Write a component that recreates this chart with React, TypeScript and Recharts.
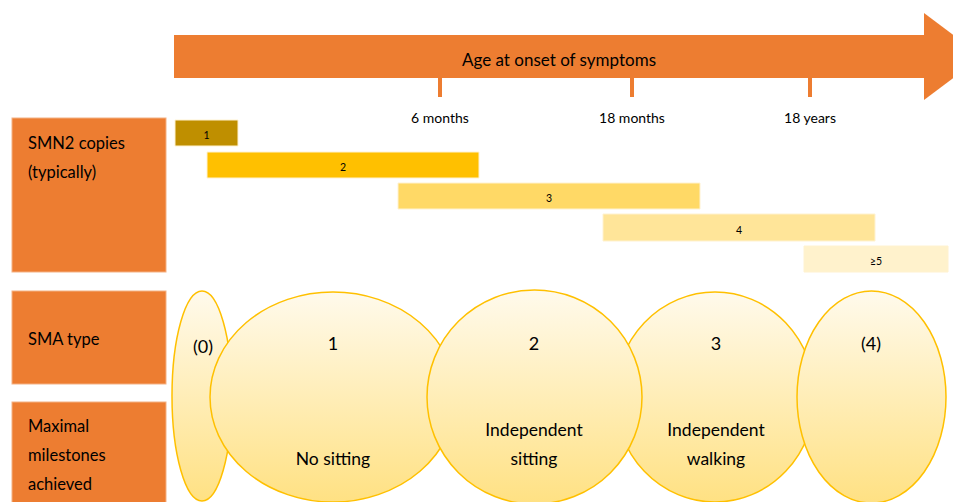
import { ComposedChart, XAxis, YAxis, ReferenceArea, ReferenceDot } from 'recharts';

const W = 953;
const H = 502;
const FONT = 'Lato, "Open Sans", sans-serif';

// positions are in figure units (x: 0..953 left->right, y: 0..502 top->bottom)
const arrowBody = { x1: 174, x2: 924, y1: 35, y2: 78 };
const arrowHead = { x1: 924, x2: 982, y1: 13, y2: 100 };
const arrowTitle = 'Age at onset of symptoms';
const arrowTitlePos = [559, 59];

const ageTicks = [440, 632, 810];
const ageTickLabels = ['6 months', '18 months', '18 years'];

const copyLabels = ['1', '2', '3', '4', '≥5'];
const copyStart = [175, 207, 398, 603, 804];
const copyEnd = [238, 479, 700, 875, 948];
const copyTop = [120, 152, 183, 214, 246];
const copyBottom = [146, 178, 209, 241, 272];
const copyColors = ['#BF8F00', '#FFC000', '#FFD966', '#FFE599', '#FFF2CC'];

const rowTitles = [['SMN2 copies', '(typically)'], ['SMA type'], ['Maximal', 'milestones', 'achieved']];
const rowTop = [118, 291, 402];
const rowBottom = [272, 384, 520];
const rowTextY = [143, 339, 426];

// ellipses listed in drawing order (later ones sit on top)
const typeLabels = ['(0)', '1', '3', '2', '(4)'];
const typeLeft = [172, 210, 615, 427, 797];
const typeRight = [232, 456, 815, 642, 946];
const typeTop = [291, 292, 292, 290, 291];
const typeBottom = [501, 502, 502, 504, 503];
const typeLabelX = [203, 333, 716, 534, 871];
const milestones = [[], ['No sitting'], ['Independent', 'walking'], ['Independent', 'sitting'], []];

const OrangeBox = (lines: string[], firstY: number) => (p: any) => (
    <g>
        <rect x={p.x} y={p.y} width={p.width} height={p.height} fill="#ED7D31" stroke="#F4B183" strokeWidth={1} />
        {lines.map((t, i) => (
            <text
                key={t}
                x={p.x + 16}
                y={firstY + i * 29}
                fontSize={16.5}
                fontFamily={FONT}
                fill="#000"
                dominantBaseline="central"
            >
                {t}
            </text>
        ))}
    </g>
);

const Ellipse = (idx: number) => (p: any) => (
    <g>
        <defs>
            <linearGradient id={`eg${idx}`} x1="0" y1="0" x2="0" y2="1">
                <stop offset="0%" stopColor="#FFFAEC" />
                <stop offset="100%" stopColor="#FFE183" />
            </linearGradient>
        </defs>
        <ellipse
            cx={p.x + p.width / 2}
            cy={p.y + p.height / 2}
            rx={p.width / 2}
            ry={p.height / 2}
            fill={`url(#eg${idx})`}
            stroke="#FFC000"
            strokeWidth={1.5}
        />
    </g>
);

const TextAt = (text: string, size: number) => (p: any) => (
    <text x={p.cx} y={p.cy} fontSize={size} fontFamily={FONT} fill="#000" textAnchor="middle" dominantBaseline="central">
        {text}
    </text>
);

export default function App() {
    return (
        <div style={{ position: 'absolute', left: 0, top: 0, background: '#fff' }}>
            <ComposedChart width={W} height={H} margin={{ top: 0, right: 0, bottom: 0, left: 0 }} data={[]}>
                <XAxis type="number" dataKey="x" domain={[0, W]} hide allowDataOverflow />
                <YAxis type="number" dataKey="y" domain={[0, H]} reversed hide allowDataOverflow />

                {/* arrow */}
                <ReferenceArea {...arrowBody} fill="#ED7D31" fillOpacity={1} stroke="none" ifOverflow="visible" />
                <ReferenceArea
                    {...arrowHead}
                    ifOverflow="visible"
                    shape={(p: any) => (
                        <polygon
                            points={`${p.x},${p.y} ${p.x + p.width},${p.y + p.height / 2} ${p.x},${p.y + p.height}`}
                            fill="#ED7D31"
                        />
                    )}
                />
                <ReferenceDot x={arrowTitlePos[0]} y={arrowTitlePos[1]} r={0} ifOverflow="visible" shape={TextAt(arrowTitle, 17)} />
                {ageTicks.map((t, i) => (
                    <ReferenceArea key={`t${i}`} x1={t - 2} x2={t + 2} y1={78} y2={97} fill="#ED7D31" fillOpacity={1} stroke="none" ifOverflow="visible" />
                ))}
                {ageTicks.map((t, i) => (
                    <ReferenceDot key={`tl${i}`} x={t} y={117} r={0} ifOverflow="visible" shape={TextAt(ageTickLabels[i], 14)} />
                ))}

                {/* row headers */}
                {rowTitles.map((lines, i) => (
                    <ReferenceArea
                        key={`r${i}`}
                        x1={12}
                        x2={166}
                        y1={rowTop[i]}
                        y2={rowBottom[i]}
                        ifOverflow="visible"
                        shape={OrangeBox(lines, rowTextY[i])}
                    />
                ))}

                {/* SMN2 copy number ranges */}
                {copyLabels.map((c, i) => (
                    <ReferenceArea
                        key={`c${i}`}
                        x1={copyStart[i]}
                        x2={copyEnd[i]}
                        y1={copyTop[i]}
                        y2={copyBottom[i]}
                        fill={copyColors[i]}
                        fillOpacity={1}
                        stroke="#FFF2D0"
                        strokeWidth={1}
                        ifOverflow="visible"
                    />
                ))}
                {copyLabels.map((c, i) => (
                    <ReferenceDot
                        key={`cl${i}`}
                        x={(copyStart[i] + copyEnd[i]) / 2}
                        y={(copyTop[i] + copyBottom[i]) / 2 + 2}
                        r={0}
                        ifOverflow="visible"
                        shape={TextAt(c, 10.5)}
                    />
                ))}

                {/* SMA type ellipses */}
                {typeLabels.map((t, i) => (
                    <ReferenceArea
                        key={`e${i}`}
                        x1={typeLeft[i]}
                        x2={typeRight[i]}
                        y1={typeTop[i]}
                        y2={typeBottom[i]}
                        ifOverflow="visible"
                        shape={Ellipse(i)}
                    />
                ))}
                {typeLabels.map((t, i) => (
                    <ReferenceDot key={`el${i}`} x={typeLabelX[i]} y={i === 0 ? 346 : 343} r={0} ifOverflow="visible" shape={TextAt(t, 18)} />
                ))}
                {milestones.map((lines, i) =>
                    lines.map((m, j) => (
                        <ReferenceDot
                            key={`m${i}-${j}`}
                            x={typeLabelX[i]}
                            y={lines.length === 1 ? 458 : 429 + j * 29}
                            r={0}
                            ifOverflow="visible"
                            shape={TextAt(m, 17.5)}
                        />
                    ))
                )}
            </ComposedChart>
        </div>
    );
}
